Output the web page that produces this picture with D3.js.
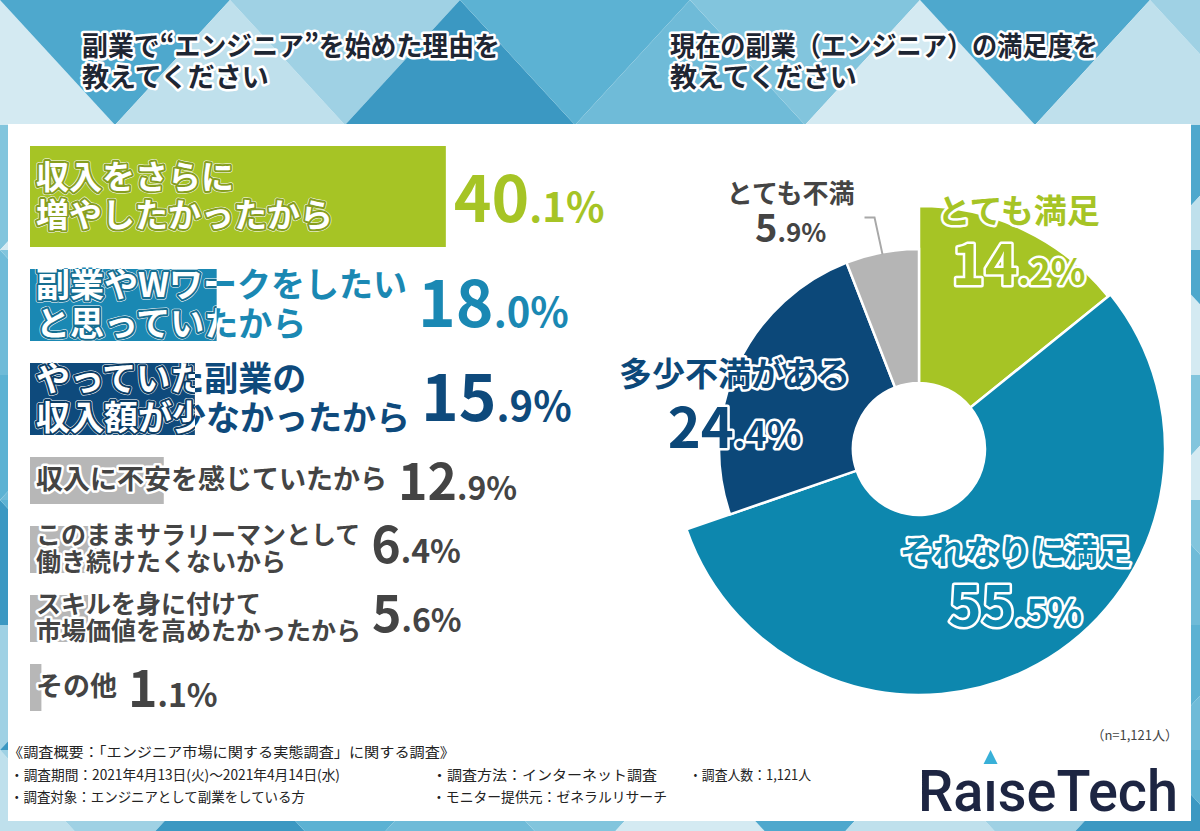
<!DOCTYPE html>
<html lang="ja">
<head>
<meta charset="utf-8">
<title>副業エンジニア 調査</title>
<script src="https://d3js.org/d3.v7.min.js"></script>
<style>
  body { margin: 0; background: #fff; }
  svg text { font-family: "Noto Sans CJK JP", "Noto Sans", sans-serif; }
</style>
</head>
<body>
<svg width="1200" height="831"></svg>
<script>
// ---- data ----
var reasonLabels = [
    ["収入をさらに", "増やしたかったから"],
    ["副業やWワークをしたい", "と思っていたから"],
    ["やっていた副業の", "収入額が少なかったから"],
    ["収入に不安を感じていたから"],
    ["このままサラリーマンとして", "働き続けたくないから"],
    ["スキルを身に付けて", "市場価値を高めたかったから"],
    ["その他"]
];
var reasonValues = [40.1, 18.0, 15.9, 12.9, 6.4, 5.6, 1.1];

var satisfactionLabels = ["とても満足", "それなりに満足", "多少不満がある", "とても不満"];
var satisfactionValues = [14.2, 55.5, 24.4, 5.9];

var titleLeft = ["副業で“エンジニア”を始めた理由を", "教えてください"];
var titleRight = ["現在の副業（エンジニア）の満足度を", "教えてください"];
var footnotes = [
    "《調査概要：「エンジニア市場に関する実態調査」に関する調査》",
    "・調査期間：2021年4月13日(火)～2021年4月14日(水)",
    "・調査方法：インターネット調査",
    "・調査人数：1,121人",
    "・調査対象：エンジニアとして副業をしている方",
    "・モニター提供元：ゼネラルリサーチ"
];
var sampleNote = "（n=1,121人）";

// ---- styles ----
var barColors = ["#a6c425", "#1a88b3", "#0e4a7c", "#b7b7b7", "#b7b7b7", "#b7b7b7", "#b7b7b7"];
var textColors = ["#a6c425", "#1a88b3", "#0e4a7c", "#444", "#444", "#444", "#444"];
var pieColors = ["#a6c425", "#0d87ae", "#0c4879", "#b5b5b5"];
var pieTextColors = ["#a6c425", "#0d87ae", "#0c4879", "#444"];
var bgPalette = ["#d4eaf2", "#9fd1e4", "#6fbbd8", "#4ea8cd", "#3b98c2", "#82c5dd", "#bfe0ec", "#5cb2d3"];

var svg = d3.select("svg"),
    width = +svg.attr("width"),
    height = +svg.attr("height");

// ---- background triangles ----
var triW = 230, triH = 125;
var tris = [];
for (var r = 0; r * triH < height; r++) {
    for (var k = -1; k * triW / 2 < width + triW; k++) {
        tris.push({r: r, k: k});
    }
}
svg.append("g").selectAll("path")
    .data(tris)
    .enter().append("path")
    .attr("d", function (d) {
        var x0 = d.k * triW / 2, y0 = d.r * triH, y1 = y0 + triH;
        var up = (d.k + d.r) % 2 === 0;
        return up
            ? "M" + (x0 - triW / 2) + "," + y1 + "L" + x0 + "," + y0 + "L" + (x0 + triW / 2) + "," + y1 + "Z"
            : "M" + (x0 - triW / 2) + "," + y0 + "L" + x0 + "," + y1 + "L" + (x0 + triW / 2) + "," + y0 + "Z";
    })
    .style("fill", function (d) {
        return bgPalette[((d.r * 5 + d.k * 3) % bgPalette.length + bgPalette.length) % bgPalette.length];
    })
    .style("stroke", "none");

// white panel
svg.append("rect")
    .attr("x", 8).attr("y", 124)
    .attr("width", 1183).attr("height", 697)
    .style("fill", "#fff");

// ---- titles ----
function title(lines, x, firstLen) {
    svg.append("g").selectAll("text")
        .data(lines)
        .enter().append("text")
        .attr("x", x)
        .attr("y", function (d, i) { return 56 + i * 31; })
        .attr("textLength", function (d, i) { return i === 0 ? firstLen : null; })
        .attr("lengthAdjust", "spacingAndGlyphs")
        .style("font-size", "27px")
        .style("font-weight", 700)
        .style("fill", "#1e2633")
        .style("stroke", "#fff")
        .style("stroke-width", 5)
        .style("stroke-linejoin", "round")
        .style("paint-order", "stroke")
        .text(function (d) { return d; });
}
title(titleLeft, 82, 418);
title(titleRight, 670, 428);

// ---- bar chart ----
var x = d3.scaleLinear().domain([0, 100]).range([0, 1037]);
var barX = 30;
var tierOf = function (i) { return i === 0 ? 0 : (i < 3 ? 1 : 2); };
var barH = [101, 72, 47],
    lineH = [38, 39, 27],
    bigSize = [64, 64, 50],
    smallSize = [40, 40, 32];

var rows = [], yTop = 146;
reasonValues.forEach(function (v, i) {
    var t = tierOf(i);
    rows.push({i: i, v: v, t: t, y: yTop, h: barH[t], lines: reasonLabels[i]});
    yTop += barH[t] + 22;
});

var defs = svg.append("defs");
var bars = svg.append("g").attr("class", "bars");

rows.forEach(function (d) {
    var g = bars.append("g");
    g.append("rect")
        .attr("x", barX).attr("y", d.y)
        .attr("width", x(d.v)).attr("height", d.h)
        .style("fill", barColors[d.i]);

    var cy = d.y + d.h / 2 - 3;
    var n = d.lines.length;
    var fs = d.t === 0 ? 33 : d.t === 1 ? 34 : (n === 2 ? 25 : 27);
    var lineY = function (l, k) { return cy + (k - (n - 1) / 2) * lineH[d.t]; };

    var base = g.append("g").selectAll("text")
        .data(d.lines)
        .enter().append("text")
        .attr("x", barX + 6)
        .attr("y", lineY)
        .attr("dominant-baseline", "central")
        .style("font-size", fs + "px")
        .style("font-weight", 700)
        .style("fill", textColors[d.i])
        .style("stroke", "#fff")
        .style("stroke-width", 5)
        .style("stroke-linejoin", "round")
        .style("paint-order", "stroke")
        .text(function (l) { return l; });

    if (d.t < 2) {
        // inside the bar the label turns white with a coloured rim
        defs.append("clipPath").attr("id", "clip" + d.i)
            .append("rect")
            .attr("x", barX).attr("y", d.y)
            .attr("width", x(d.v)).attr("height", d.h);
        g.append("g").attr("clip-path", "url(#clip" + d.i + ")")
            .selectAll("text")
            .data(d.lines)
            .enter().append("text")
            .attr("x", barX + 6)
            .attr("y", lineY)
            .attr("dominant-baseline", "central")
            .style("font-size", fs + "px")
            .style("font-weight", 700)
            .style("fill", "#fff")
            .style("stroke", d3.rgb(barColors[d.i]).darker(0.6))
            .style("stroke-width", 4)
            .style("stroke-linejoin", "round")
            .style("paint-order", "stroke")
            .text(function (l) { return l; });
    }

    var labelEnd = 0;
    base.each(function () { labelEnd = Math.max(labelEnd, this.getComputedTextLength()); });
    labelEnd += barX + 6;
    var barEnd = barX + x(d.v);
    var vx = barEnd > labelEnd ? barEnd + 8 : labelEnd + 11;
    var off = d.t === 0 ? 25 : d.t === 1 ? 22 : (n === 2 ? 13 : 19);

    var parts = d.v.toFixed(1).split(".");
    var vt = g.append("text")
        .attr("x", vx)
        .attr("y", d.y + d.h / 2 + off)
        .style("font-weight", 700)
        .style("fill", textColors[d.i]);
    vt.append("tspan").style("font-size", bigSize[d.t] + "px").text(parts[0]);
    vt.append("tspan").style("font-size", smallSize[d.t] + "px").text("." + parts[1] + "%");
});

// ---- donut ----
var cx = 919, cyPie = 449;
var innerR = 66;
var outerR = [243, 246, 200, 200];
var labelPos = [[0, 231], [-7, 164], [-11, 190], [-18, 268]];

var pie = d3.pie().sort(null).value(function (d) { return d; });
var arcs = pie(satisfactionValues);

var arc = d3.arc()
    .innerRadius(innerR)
    .outerRadius(function (d) { return outerR[d.index]; });

var pg = svg.append("g").attr("transform", "translate(" + cx + "," + cyPie + ")");

pg.selectAll("path.slice")
    .data(arcs)
    .enter().append("path")
    .attr("class", "slice")
    .attr("d", arc)
    .style("fill", function (d) { return pieColors[d.index]; })
    .style("stroke", "#fff")
    .style("stroke-width", 2.5);

function polar(angDeg, rad) {
    var a = angDeg * Math.PI / 180;
    return [rad * Math.sin(a), -rad * Math.cos(a)];
}

// leader line for the small slice
var gray = arcs[3];
var gMid = (gray.startAngle + gray.endAngle) / 2 * 180 / Math.PI;
var lEnd = polar(gMid, outerR[3] - 2);
pg.append("path")
    .attr("d", "M" + (lEnd[0] - 18) + "," + (lEnd[1] - 37) +
        "L" + (lEnd[0] - 8) + "," + (lEnd[1] - 37) +
        "L" + lEnd[0] + "," + lEnd[1])
    .style("fill", "none")
    .style("stroke", "#a8a8a8")
    .style("stroke-width", 2);

var lab = pg.selectAll("g.lab")
    .data(arcs)
    .enter().append("g")
    .attr("class", "lab")
    .attr("transform", function (d) {
        var mid = (d.startAngle + d.endAngle) / 2 * 180 / Math.PI;
        var p = polar(mid + labelPos[d.index][0], labelPos[d.index][1]);
        return "translate(" + p[0] + "," + p[1] + ")";
    });

lab.append("text")
    .attr("text-anchor", "middle")
    .attr("dominant-baseline", "central")
    .attr("y", function (d) { return d.index === 3 ? -22 : -32; })
    .style("font-size", function (d) { return d.index === 3 ? "26px" : "33px"; })
    .style("font-weight", 700)
    .style("fill", function (d) { return pieTextColors[d.index]; })
    .style("stroke", "#fff")
    .style("stroke-width", function (d) { return d.index === 3 ? 0 : 5; })
    .style("stroke-linejoin", "round")
    .style("paint-order", "stroke")
    .text(function (d) { return satisfactionLabels[d.index]; });

var pv = lab.append("text")
    .attr("text-anchor", "middle")
    .attr("y", function (d) { return d.index === 3 ? 28 : 44; })
    .style("font-weight", 700)
    .style("fill", function (d) { return pieTextColors[d.index]; })
    .style("stroke", "#fff")
    .style("stroke-width", function (d) { return d.index === 3 ? 0 : 5; })
    .style("stroke-linejoin", "round")
    .style("paint-order", "stroke");
pv.append("tspan")
    .style("font-size", function (d) { return d.index === 3 ? "38px" : "56px"; })
    .text(function (d) { return d.data.toFixed(1).split(".")[0]; });
pv.append("tspan")
    .style("font-size", function (d) { return d.index === 3 ? "26px" : "36px"; })
    .text(function (d) { return "." + d.data.toFixed(1).split(".")[1] + "%"; });

// ---- footer ----
svg.append("text")
    .attr("x", 1178).attr("y", 740)
    .attr("text-anchor", "end")
    .style("font-size", "13px")
    .style("fill", "#444")
    .text(sampleNote);

var footPos = [[8, 757, 447], [10, 780, 330], [432, 780, 225], [689, 780, 122], [10, 802, 295], [432, 802, 235]];
svg.append("g").selectAll("text")
    .data(footnotes)
    .enter().append("text")
    .attr("x", function (d, i) { return footPos[i][0]; })
    .attr("y", function (d, i) { return footPos[i][1]; })
    .attr("textLength", function (d, i) { return footPos[i][2]; })
    .attr("lengthAdjust", "spacingAndGlyphs")
    .style("font-size", "14px")
    .style("fill", "#222")
    .text(function (d) { return d; });

// logo
var logo = svg.append("text")
    .attr("x", 918).attr("y", 811)
    .attr("textLength", 260)
    .attr("lengthAdjust", "spacingAndGlyphs")
    .style("font-family", "Roboto, 'Noto Sans', sans-serif")
    .style("font-size", "58px")
    .style("font-weight", 500)
    .style("fill", "#1d2542")
    .text("RaıseTech");
var ln = logo.node();
var ix = 918 + ln.getSubStringLength(0, 2) + ln.getSubStringLength(2, 1) / 2;
svg.append("path")
    .attr("d", "M" + (ix - 7) + ",764L" + ix + ",750L" + (ix + 7) + ",764Z")
    .style("fill", "#38b0d8");
</script>
</body>
</html>
